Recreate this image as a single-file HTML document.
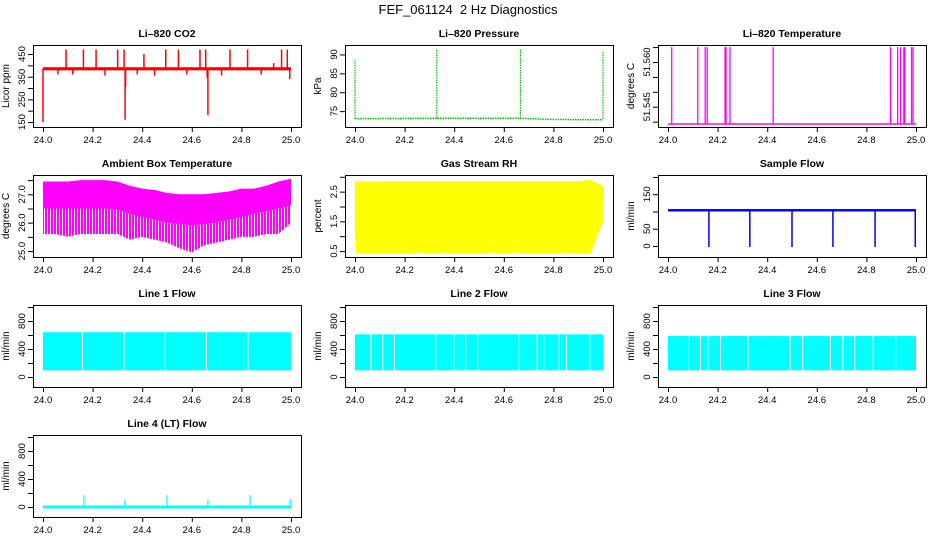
<!DOCTYPE html>
<html><head><meta charset="utf-8">
<style>
html,body{margin:0;padding:0;background:#fff;}
svg{display:block;font-family:"Liberation Sans",sans-serif;}
</style></head>
<body>
<svg id="chart" width="936" height="540" viewBox="0 0 936 540" xmlns="http://www.w3.org/2000/svg">
<defs>
<pattern id="stripeM" width="3" height="10" patternUnits="userSpaceOnUse"><rect x="0" y="0" width="2" height="10" fill="#ff00ff"/></pattern>
<pattern id="stripeY" width="4" height="10" patternUnits="userSpaceOnUse"><rect x="0" y="0" width="3" height="10" fill="#ffff00"/></pattern>
</defs>
<text x="468" y="14" text-anchor="middle" font-size="13">FEF_061124&#160; 2 Hz Diagnostics</text>
</svg>
<script>
// ---- data ----
const xTicks=[24.0,24.2,24.4,24.6,24.8,25.0];
const xTickLabels=["24.0","24.2","24.4","24.6","24.8","25.0"];
const envX=[24.00,24.05,24.10,24.15,24.20,24.25,24.30,24.35,24.40,24.45,24.50,24.55,24.60,24.65,24.70,24.75,24.80,24.85,24.90,24.95,25.00];

const co2Base=[378,392];
const co2SpikeX=[24.093,24.163,24.214,24.301,24.327,24.407,24.495,24.546,24.633,24.656,24.754,24.825,24.962,24.985,24.0,24.331,24.333,24.665,24.662,24.06,24.12,24.25,24.38,24.45,24.58,24.72,24.88,24.93,24.995];
const co2SpikeV=[470,470,470,470,470,450,470,470,470,470,470,470,470,470,150,160,305,180,345,360,360,355,360,355,360,355,360,410,340];

const presX=[24.0,24.33,24.665,24.8,25.0];
const presBase=[73.0,73.1,73.1,72.8,72.7];
const presSpikeX=[24.0,24.33,24.667,25.0];
const presSpikeV=[88.5,91.5,91.3,90.8];

const tempBase=51.5392;
const tempSpikeX=[24.015,24.120,24.150,24.158,24.230,24.234,24.250,24.424,24.897,24.926,24.938,24.951,24.955,24.982,24.988];
const tempSpikeV=[51.565,51.565,51.565,51.565,51.565,51.565,51.565,51.565,51.565,51.565,51.565,51.565,51.565,51.565,51.565];

const ambUpper=[27.45,27.45,27.45,27.5,27.5,27.5,27.45,27.3,27.2,27.15,27.05,27.0,27.0,27.0,27.05,27.1,27.2,27.2,27.3,27.45,27.55];
const ambCore=[26.5,26.5,26.5,26.5,26.5,26.5,26.45,26.3,26.2,26.1,26.0,25.95,25.9,25.95,26.0,26.1,26.2,26.3,26.4,26.5,26.6];
const ambMin=[25.6,25.6,25.5,25.6,25.6,25.6,25.6,25.4,25.5,25.4,25.3,25.1,24.95,25.2,25.3,25.4,25.5,25.5,25.6,25.6,26.0];

const rhUpper=[2.85,2.85,2.85,2.85,2.85,2.85,2.85,2.85,2.85,2.85,2.85,2.85,2.85,2.85,2.85,2.85,2.85,2.85,2.85,2.9,2.7];
const rhCore=[0.9,0.85,0.9,0.85,0.9,0.9,0.85,0.9,0.85,0.9,0.9,0.85,0.9,0.85,0.9,0.9,0.85,0.9,0.85,0.9,2.0];
const rhMin=[0.45,0.4,0.4,0.4,0.4,0.45,0.4,0.45,0.4,0.4,0.4,0.45,0.4,0.45,0.4,0.4,0.4,0.45,0.4,0.4,1.5];

const sfBase=[100,107];
const sfDropX=[24.165,24.33,24.5,24.665,24.835,24.997];
const sfDropV=[-3,-3,-3,-3,-3,-3];

const l1Top=640, l1Low=95;
const l1Gaps=[24.159,24.327,24.493,24.659,24.827];
const l2Top=610, l2Low=95;
const l2Gaps=[24.064,24.112,24.159,24.326,24.399,24.447,24.495,24.662,24.734,24.761,24.823,24.853,24.947];
const l3Top=585, l3Low=95;
const l3Gaps=[24.086,24.131,24.161,24.212,24.323,24.493,24.543,24.655,24.705,24.753,24.827,24.918];
const l4Base=0;
const l4SpikeX=[24.165,24.33,24.5,24.665,24.835,24.997];
const l4SpikeV=[170,110,170,110,170,110];

// ---- helpers ----
const svg=document.getElementById('chart');
const NS="http://www.w3.org/2000/svg";
function mk(tag,attrs,parent){const e=document.createElementNS(NS,tag);for(const k in attrs)e.setAttribute(k,attrs[k]);(parent||svg).appendChild(e);return e;}
const LEFTS=[33,345,658];
function panel(col,row,name,title,ylab,ymin,ymax,yt,ylabIdx){
  const L=LEFTS[col],T=45+130*row,W=268,H=82;
  const g=mk('g',{});
  
  
  const sx=v=>L+10+(v-24)*248;
  const sy=v=>T+H-(v-ymin)/(ymax-ymin)*H;
  const t=mk('text',{x:L+W/2,y:T-8,'text-anchor':'middle','font-size':'10.5','font-weight':'bold'},g);
  t.textContent=title;
  
  
  const yl=mk('text',{x:0,y:0,'text-anchor':'middle','font-size':'10',transform:`translate(${L-24},${T+H/2}) rotate(-90)`},g);
  yl.textContent=ylab;
  
  
  const ax=mk('g',{stroke:'#000','stroke-width':'1',fill:'none'},g);
  
  
  const plot=mk('g',{},g);
  
  
  mk('rect',{x:L+0.5,y:T+0.5,width:W,height:H},ax);
  mk('line',{x1:sx(24),x2:sx(25),y1:T+H+0.5,y2:T+H+0.5},ax);
  xTicks.forEach((v,i)=>{
    mk('line',{x1:sx(v)+0.5,x2:sx(v)+0.5,y1:T+H,y2:T+H+5},ax);
    const tl=mk('text',{x:sx(v),y:T+H+16,'text-anchor':'middle','font-size':'9.5'},g);
    tl.textContent=xTickLabels[i];
    
    
  });
  yt.forEach((v,i)=>{
    mk('line',{x1:L-5,x2:L,y1:sy(v)+0.5,y2:sy(v)+0.5},ax);
    if(ylabIdx[i]){
      const tl=mk('text',{x:0,y:0,'text-anchor':'middle','font-size':'9.5',transform:`translate(${L-8},${sy(v)}) rotate(-90)`},g);
      tl.textContent=ylabIdx[i];
      
      
    }
  });
  return {sx,sy,plot,L,T,W,H};
}
function vline(p,x,y1,y2,color,w,extra){const a={x1:p.sx(x),x2:p.sx(x),y1:p.sy(y1),y2:p.sy(y2),stroke:color,'stroke-width':w||1};if(extra)Object.assign(a,extra);return mk('line',a,p.plot);}
function envPoly(p,up,lo,fill){let pts=envX.map((x,i)=>p.sx(x)+','+p.sy(up[i]));for(let i=envX.length-1;i>=0;i--)pts.push(p.sx(envX[i])+','+p.sy(lo[i]));return mk('polygon',{points:pts.join(' '),fill:fill},p.plot);}

// CO2
let p=panel(0,0,'co2','Li\u2013820 CO2','Licor ppm',128,490,[150,200,250,300,350,400,450],['150','','250','','350','','450']);
let r=mk('rect',{x:p.sx(24),y:p.sy(co2Base[1]),width:p.sx(25)-p.sx(24),height:p.sy(co2Base[0])-p.sy(co2Base[1]),fill:'#ff0000'},p.plot);


co2SpikeX.forEach((x,i)=>{const l=vline(p,x,385,co2SpikeV[i],'#ff0000',1.5);

});

// Pressure
p=panel(1,0,'pressure','Li\u2013820 Pressure','kPa',70.8,92.5,[75,80,85,90],['75','80','85','90']);
let pl=mk('polyline',{points:presX.map((x,i)=>p.sx(x)+','+p.sy(presBase[i])).join(' '),fill:'none',stroke:'#00c000','stroke-width':1.5,'stroke-dasharray':'1.5,1'},p.plot);


presSpikeX.forEach((x,i)=>{const l=vline(p,x,73,presSpikeV[i],'#00c000',1.2,{'stroke-dasharray':'1.5,1'});

});

// Temperature
p=panel(2,0,'li820-temp','Li\u2013820 Temperature','degrees C',51.5382,51.5657,[51.540,51.545,51.550,51.555,51.560,51.565],['','51.545','','','51.560','']);
let bl=mk('line',{x1:p.sx(24),x2:p.sx(25),y1:p.sy(tempBase),y2:p.sy(tempBase),stroke:'#ff00ff','stroke-width':1.5},p.plot);


tempSpikeX.forEach((x,i)=>{const l=vline(p,x,tempBase,tempSpikeV[i],'#ff00ff',1.3);

});

// Ambient
p=panel(0,1,'ambient-temp','Ambient Box Temperature','degrees C',24.79,27.68,[25.0,25.5,26.0,26.5,27.0,27.5],['25.0','','26.0','','27.0','']);
let e1=envPoly(p,ambCore,ambMin,'url(#stripeM)');


let e2=envPoly(p,ambUpper,ambCore,'#ff00ff');



// RH
p=panel(1,1,'rh','Gas Stream RH','percent',0.30,3.06,[0.5,1.0,1.5,2.0,2.5,3.0],['0.5','','1.5','','2.5','']);
let e3=envPoly(p,rhCore,rhMin,'url(#stripeY)');


let e4=envPoly(p,rhUpper,rhCore,'#ffff00');



// Sample flow
p=panel(2,1,'sample-flow','Sample Flow','ml/min',-32,205.7,[0,50,100,150,200],['0','50','','150','']);
r=mk('rect',{x:p.sx(24),y:p.sy(sfBase[1]),width:p.sx(25)-p.sx(24),height:p.sy(sfBase[0])-p.sy(sfBase[1]),fill:'#0000ff'},p.plot);


sfDropX.forEach((x,i)=>{const l=vline(p,x,103,sfDropV[i],'#0000ff',1.5);

});

// Line flows
function flowPanel(col,row,name,title,top,low,gaps){
  const q=panel(col,row,name,title,'ml/min',-143,1029,[0,200,400,600,800,1000],['0','','400','','800','']);
  const b=mk('rect',{x:q.sx(24),y:q.sy(top),width:q.sx(25)-q.sx(24),height:q.sy(low)-q.sy(top),fill:'#00ffff'},q.plot);
  
  
  gaps.forEach(x=>{const l=vline(q,x,top+10,low,'#ffffff',1);
  
  });
  return q;
}
flowPanel(0,2,'line1-flow','Line 1 Flow',l1Top,l1Low,l1Gaps);
flowPanel(1,2,'line2-flow','Line 2 Flow',l2Top,l2Low,l2Gaps);
flowPanel(2,2,'line3-flow','Line 3 Flow',l3Top,l3Low,l3Gaps);

p=panel(0,3,'line4-flow','Line 4 (LT) Flow','ml/min',-143,1029,[0,200,400,600,800,1000],['0','','400','','800','']);
bl=mk('line',{x1:p.sx(24),x2:p.sx(25),y1:p.sy(l4Base),y2:p.sy(l4Base),stroke:'#00ffff','stroke-width':3},p.plot);


l4SpikeX.forEach((x,i)=>{const l=vline(p,x,l4Base,l4SpikeV[i],'#00ffff',1.2);

});
</script>
</body></html>
